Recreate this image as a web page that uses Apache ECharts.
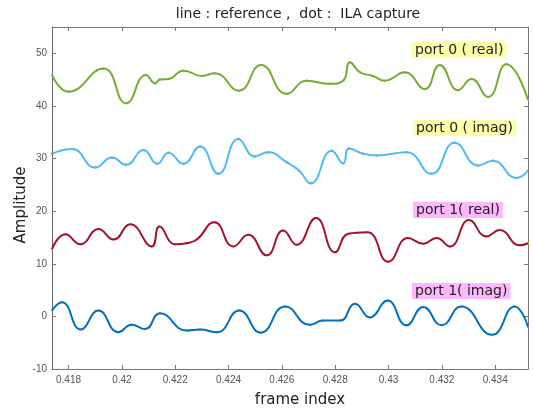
<!DOCTYPE html>
<html><head><meta charset="utf-8">
<script src="https://cdn.jsdelivr.net/npm/echarts@6/dist/echarts.min.js"></script>
<style>html,body{margin:0;padding:0;background:#fff}#c{width:533px;height:410px}</style>
</head><body><div id="c"></div><script>
const xTicks = [0.418, 0.42, 0.422, 0.424, 0.426, 0.428, 0.43, 0.432, 0.434];
const yTicks = [-10, 0, 10, 20, 30, 40, 50];
const seriesNames = ['port 0 ( real)', 'port 0 ( imag)', 'port 1( real)', 'port 1( imag)'];

const p0RealX = [0.41738,0.41800,0.41931,0.42016,0.42090,0.42125,0.42143,0.42175,0.42231,0.42300,0.42349,0.42439,0.42522,0.42618,0.42693,0.42780,0.42830,0.42855,0.42893,0.42942,0.42986,0.43061,0.43136,0.43192,0.43261,0.43311,0.43373,0.43442,0.43523];
const p0RealY = [45.9,42.7,47.1,40.5,45.9,44.3,45.0,45.1,46.7,45.7,46.2,42.9,47.8,42.3,44.8,44.2,44.8,48.3,46.4,45.7,44.8,46.4,43.2,47.8,43.0,45.1,41.7,47.9,41.2];

const p0ImagX = [0.41738,0.41813,0.41900,0.41963,0.42016,0.42081,0.42133,0.42175,0.42231,0.42293,0.42362,0.42437,0.42499,0.42549,0.42618,0.42665,0.42708,0.42787,0.42830,0.42852,0.42905,0.42955,0.43067,0.43161,0.43248,0.43336,0.43392,0.43479,0.43523];
const p0ImagY = [30.9,31.8,28.3,30.2,28.8,31.6,29.0,31.1,29.0,32.3,27.1,33.7,30.4,31.2,29.3,27.7,25.3,31.5,29.1,31.9,30.9,30.6,31.2,27.1,33.0,28.7,29.6,26.3,27.7];

const p1RealX = [0.41738,0.41788,0.41844,0.41912,0.41969,0.42031,0.42112,0.42141,0.42200,0.42243,0.42281,0.42347,0.42418,0.42474,0.42543,0.42605,0.42655,0.42728,0.42799,0.42849,0.42920,0.42999,0.43073,0.43130,0.43180,0.43230,0.43302,0.43367,0.43417,0.43492,0.43523];
const p1RealY = [12.8,15.6,13.7,16.6,14.6,17.5,13.3,17.1,13.7,13.9,14.6,17.9,13.3,15.5,11.6,16.3,13.6,18.7,12.2,15.7,16.0,10.4,14.9,13.8,14.9,13.3,18.3,15.2,16.4,13.5,13.9];

const p1ImagX = [0.41738,0.41775,0.41846,0.41912,0.41987,0.42037,0.42087,0.42143,0.42243,0.42293,0.42356,0.42440,0.42521,0.42612,0.42705,0.42755,0.42818,0.42874,0.42930,0.42996,0.43067,0.43130,0.43199,0.43273,0.43388,0.43473,0.43523];
const p1ImagY = [1.1,2.7,-2.5,1.1,-3.0,-1.6,-2.4,0.6,-2.7,-2.5,-3.0,1.1,-3.1,1.9,-1.6,-0.8,-0.8,2.4,-0.2,3.0,-1.7,1.8,-1.7,1.9,-3.5,1.9,-2.0];

const lineColors = ['#77ac30', '#4dbeee', '#a2142f', '#0072bd'];
const dotColors = ['#4dbeee', '#d95319', '#edb120', '#e07ad0'];
const allX = [p0RealX, p0ImagX, p1RealX, p1ImagX];
const allY = [p0RealY, p0ImagY, p1RealY, p1ImagY];

const series = [];
allX.forEach((xs, i) => {
  const data = xs.map((x, k) => [x, allY[i][k]]);
  series.push({
    name: seriesNames[i] + ' dot', type: 'scatter', data, symbolSize: 2.5, z: 2,
    itemStyle: { color: dotColors[i] }, silent: true
  });
  series.push({
    name: seriesNames[i], type: 'line', data, smooth: 0.5,
    showSymbol: false, z: 3, lineStyle: { width: 2, color: lineColors[i] },
    itemStyle: { color: lineColors[i] }
  });
});

const xMin = 0.41738, xMax = 0.43523;
const axisCol = '#777';
const chart = echarts.init(document.getElementById('c'), null, { renderer: 'canvas' });
chart.setOption({
  animation: false,
  backgroundColor: '#fff',
  grid: { left: 52, right: 5, top: 27, bottom: 41, outerBoundsMode: 'none', containLabel: false },
  xAxis: [
    { type: 'value', min: xMin, max: xMax, position: 'bottom',
      axisLine: { show: true, onZero: false, lineStyle: { color: axisCol } },
      axisTick: { show: true, inside: true, length: 4, customValues: xTicks, lineStyle: { color: axisCol } },
      axisLabel: { customValues: xTicks, color: '#555', fontSize: 10, fontFamily: 'Liberation Sans, Arial', margin: 6,
        formatter: v => String(+(+v).toFixed(3)) },
      splitLine: { show: false } },
    { type: 'value', min: xMin, max: xMax, position: 'top',
      axisLine: { show: true, onZero: false, lineStyle: { color: axisCol } },
      axisTick: { show: true, inside: true, length: 4, customValues: xTicks, lineStyle: { color: axisCol } },
      axisLabel: { show: false }, splitLine: { show: false } }
  ],
  yAxis: [
    { type: 'value', min: -10, max: 55, position: 'left',
      axisLine: { show: true, onZero: false, lineStyle: { color: '#666' } },
      axisTick: { show: true, inside: true, length: 4, customValues: yTicks, lineStyle: { color: axisCol } },
      axisLabel: { customValues: yTicks, color: '#555', fontSize: 10, fontFamily: 'Liberation Sans, Arial', margin: 5 },
      splitLine: { show: false } },
    { type: 'value', min: -10, max: 55, position: 'right',
      axisLine: { show: true, onZero: false, lineStyle: { color: axisCol } },
      axisTick: { show: true, inside: true, length: 4, customValues: yTicks, lineStyle: { color: axisCol } },
      axisLabel: { show: false }, splitLine: { show: false } }
  ],
  series,
  graphic: [
    { type: 'text', x: 298, y: 14, style: { text: 'line : reference ,  dot :  ILA capture', fill: '#222',
      font: '14px "DejaVu Sans"', align: 'center', verticalAlign: 'middle' } },
    { type: 'text', x: 300, y: 400, style: { text: 'frame index', fill: '#222', font: '15px "DejaVu Sans"', align: 'center', verticalAlign: 'middle' } },
    { type: 'text', x: 21, y: 205, rotation: Math.PI / 2, style: { text: 'Amplitude', fill: '#222', font: '15px "DejaVu Sans"', align: 'center', verticalAlign: 'middle' } },
    { type: 'text', x: 412, y: 42, z: 10, style: { text: seriesNames[0], fill: '#222', font: '14px "DejaVu Sans"', backgroundColor: '#ffffaa', padding: [1, 3, 1, 3] } },
    { type: 'text', x: 413, y: 120, z: 10, style: { text: seriesNames[1], fill: '#222', font: '14px "DejaVu Sans"', backgroundColor: '#ffffaa', padding: [1, 3, 1, 3] } },
    { type: 'text', x: 413, y: 202, z: 10, style: { text: seriesNames[2], fill: '#222', font: '14px "DejaVu Sans"', backgroundColor: '#ffb8ff', padding: [1, 3, 1, 3] } },
    { type: 'text', x: 412, y: 283, z: 10, style: { text: seriesNames[3], fill: '#222', font: '14px "DejaVu Sans"', backgroundColor: '#ffb8ff', padding: [1, 3, 1, 3] } }
  ]
});
</script></body></html>
